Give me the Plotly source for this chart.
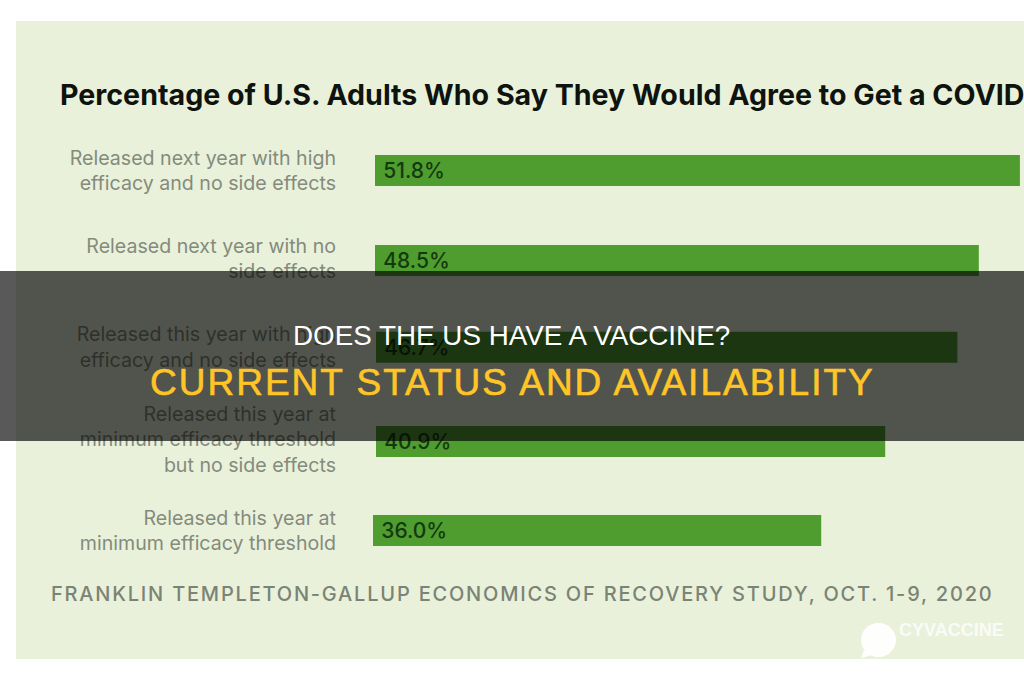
import plotly.graph_objects as go

# Survey responses, top row first
categories = [
    "Released next year with high<br>efficacy and no side effects",
    "Released next year with no<br>side effects",
    "Released this year with high<br>efficacy and no side effects",
    "Released this year at<br>minimum efficacy threshold<br>but no side effects",
    "Released this year at<br>minimum efficacy threshold",
]
agree_pct = [51.8, 48.5, 46.7, 40.9, 36.0]

# Small per-row nudges: the source layout is not perfectly regular
row_nudge = [0, 0, -0.035, 0.01, 0]
label_nudge = [0, -0.02, -0.035, -0.01, 0]
base_nudge = [0, 0, 0.08, 0.08, -0.16]
rows = [i + n for i, n in enumerate(row_nudge)]
label_rows = [i + n for i, n in enumerate(label_nudge)]

W, H = 1024, 680
PANEL = "#E9F1DB"
GREEN = "#4F9C2F"
LABEL = "#848B7C"
FOOT = "#7B8375"


def px(v):
    return v / W


def py(v):
    return 1 - v / H


# x axis: 12.45 px per percentage point, with zero at x=375
x_left_px = 365
x_range = [(x_left_px - 375) / 12.45, (W - 375) / 12.45]

fig = go.Figure(
    go.Bar(
        x=agree_pct,
        y=rows,
        base=base_nudge,
        orientation="h",
        width=0.344,
        marker=dict(color=GREEN, line=dict(width=0)),
        texttemplate="\u2005%{x:.1f}%",
        textposition="inside",
        insidetextanchor="start",
        textangle=0,
        constraintext="none",
        insidetextfont=dict(family="Inter", size=21, weight=500, color="#14390F"),
        hoverinfo="skip",
    )
)

fig.update_layout(
    width=W,
    height=H,
    margin=dict(l=0, r=0, t=0, b=0),
    paper_bgcolor="white",
    plot_bgcolor="rgba(0,0,0,0)",
    showlegend=False,
    xaxis=dict(
        domain=[px(x_left_px), 1],
        range=x_range,
        visible=False,
        fixedrange=True,
    ),
    yaxis=dict(
        domain=[py(575.5), py(125.5)],
        range=[4.5, -0.5],
        tickmode="array",
        tickvals=label_rows,
        ticktext=categories,
        ticks="",
        ticklabelstandoff=28,
        showline=False,
        showgrid=False,
        zeroline=False,
        fixedrange=True,
        tickfont=dict(family="Inter", size=19.6, color=LABEL),
    ),
    shapes=[
        # Pale green panel behind the chart
        dict(type="rect", xref="paper", yref="paper", layer="below",
             x0=px(16), x1=1, y0=py(659), y1=py(21),
             fillcolor=PANEL, line=dict(width=0)),
        # Dark translucent headline band across the chart
        dict(type="rect", xref="paper", yref="paper", layer="above",
             x0=0, x1=1, y0=py(441), y1=py(271),
             fillcolor="rgba(0,0,0,0.65)", line=dict(width=0)),
        # Logo speech bubble and its tail
        dict(type="circle", xref="paper", yref="paper", layer="above",
             x0=px(861), x1=px(896), y0=py(657), y1=py(623),
             fillcolor="rgba(255,255,255,0.95)", line=dict(width=0)),
        dict(type="path", xref="paper", yref="paper", layer="above",
             path=f"M {px(864)} {py(650)} L {px(861)} {py(658)} L {px(872)} {py(655)} Z",
             fillcolor="rgba(255,255,255,0.95)", line=dict(width=0)),
    ],
    annotations=[
        dict(text="<b>Percentage of U.S. Adults Who Say They Would Agree to Get a COVID</b>",
             xref="paper", yref="paper", x=px(58), y=py(95), xanchor="left", yanchor="middle",
             showarrow=False, font=dict(family="Inter", size=28.6, color="#0F130D")),
        dict(text="FRANKLIN TEMPLETON-GALLUP ECONOMICS OF RECOVERY STUDY, OCT. 1-9, 2020",
             xref="paper", yref="paper", x=px(522), y=py(594), xanchor="center", yanchor="middle",
             showarrow=False, font=dict(family="Inter", size=20, weight=500, color=FOOT)),
        dict(text="DOES THE US HAVE A VACCINE?",
             xref="paper", yref="paper", x=px(511), y=py(335), xanchor="center", yanchor="middle",
             showarrow=False, font=dict(family="Liberation Sans", size=27.8, color="white")),
        dict(text="CURRENT STATUS AND AVAILABILITY",
             xref="paper", yref="paper", x=px(512), y=py(382), xanchor="center", yanchor="middle",
             showarrow=False, font=dict(family="Liberation Sans", size=37, color="#FFC527")),
        dict(text="<b>CYVACCINE</b>",
             xref="paper", yref="paper", x=px(897), y=py(630), xanchor="left", yanchor="middle",
             showarrow=False, font=dict(family="Liberation Sans", size=18, color="rgba(255,255,255,0.8)")),
    ],
)

# Tracking on the source line and the yellow subtitle
tracking = """
document.querySelectorAll('.annotation-text').forEach(function (t) {
  if (t.textContent.indexOf('FRANKLIN') === 0) t.style.letterSpacing = '1.8px';
  if (t.textContent.indexOf('CURRENT') === 0) {
    t.style.letterSpacing = '2px';
    t.style.stroke = '#FFC527';
    t.style.strokeWidth = '0.6px';
  }
});
"""

fig.write_html("out.html", config={"displayModeBar": False}, post_script=tracking)
